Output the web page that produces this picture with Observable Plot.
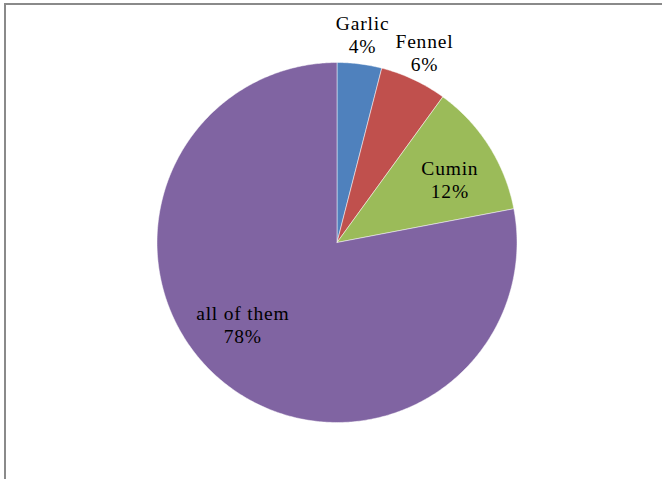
<!DOCTYPE html>
<html>
<head>
<meta charset="utf-8">
<script src="https://cdn.jsdelivr.net/npm/d3@7"></script>
<script src="https://cdn.jsdelivr.net/npm/@observablehq/plot@0.6"></script>
<style>
  html, body { margin: 0; padding: 0; background: #fff; overflow: hidden; }
  #wrap { position: relative; width: 662px; height: 479px; }
  #frame { position: absolute; left: 4px; top: 3px; width: 700px; height: 500px;
           border-left: 2px solid #8a8a8a; border-top: 2px solid #8a8a8a; box-sizing: border-box; pointer-events: none; }
  #chart { position: absolute; left: 0; top: 0; }
  #chart svg text { letter-spacing: 0.8px; }
</style>
</head>
<body>
<div id="wrap"><div id="chart"></div><div id="frame"></div></div>
<script>
const categories = ["Garlic", "Fennel", "Cumin", "all of them"];
const values = [4, 6, 12, 78];
const colors = ["#4F81BD", "#C0504D", "#9BBB59", "#8064A2"];

const W = 662, H = 479, cx = 336.5, cy = 242, R = 180;
const total = d3.sum(values);

// slice polygons in unit-radius coordinates, clockwise from 12 o'clock
const slices = [];
const labels = [];
let acc = 0;
categories.forEach((name, i) => {
  const a0 = acc / total * 2 * Math.PI;
  acc += values[i];
  const a1 = acc / total * 2 * Math.PI;
  slices.push({name, x: 0, y: 0});
  const n = Math.max(2, Math.ceil((a1 - a0) / 0.01));
  for (let k = 0; k <= n; k++) {
    const a = a0 + (a1 - a0) * k / n;
    slices.push({name, x: Math.sin(a), y: Math.cos(a)});
  }
  slices.push({name, x: 0, y: 0});
  const am = (a0 + a1) / 2;
  const share = values[i] / total;
  const r = share < 0.1 ? 1.18 : 0.69;
  labels.push({name, text: `${name}\n${values[i]}%`, x: r * Math.sin(am), y: r * Math.cos(am)});
});
// small placement nudges (pixels) to mimic best-fit label placement
const nudge = {"Garlic": [-1, 2], "Fennel": [-3, 2], "Cumin": [8, 3], "all of them": [-15, -14]};

const chart = Plot.plot({
  width: W, height: H,
  margin: 0,
  x: {domain: [-cx / R, (W - cx) / R], range: [0, W], axis: null},
  y: {domain: [-(H - cy) / R, cy / R], range: [H, 0], axis: null},
  color: {domain: categories, range: colors},
  style: {fontFamily: "'Liberation Serif', 'DejaVu Serif', serif"},
  marks: [
    Plot.line(slices, {x: "x", y: "y", z: "name", fill: "name", stroke: "#ffffff", strokeWidth: 0.8, strokeOpacity: 0.6, curve: "linear"}),
    Plot.text(labels, {
      x: "x", y: "y", text: "text",
      fontSize: 19.5, lineHeight: 1.18, fill: "#000",
      render: (index, scales, values, dimensions, context, next) => {
        const g = next(index, scales, values, dimensions, context);
        d3.select(g).selectAll("text").each(function(_, j) {
          const name = labels[index[j]].name;
          const [nx, ny] = nudge[name];
          const t = d3.select(this);
          const tr = t.attr("transform") || "";
          t.attr("transform", tr + ` translate(${nx},${ny})`);
        });
        return g;
      }
    })
  ]
});
document.getElementById("chart").appendChild(chart);
</script>
</body>
</html>
